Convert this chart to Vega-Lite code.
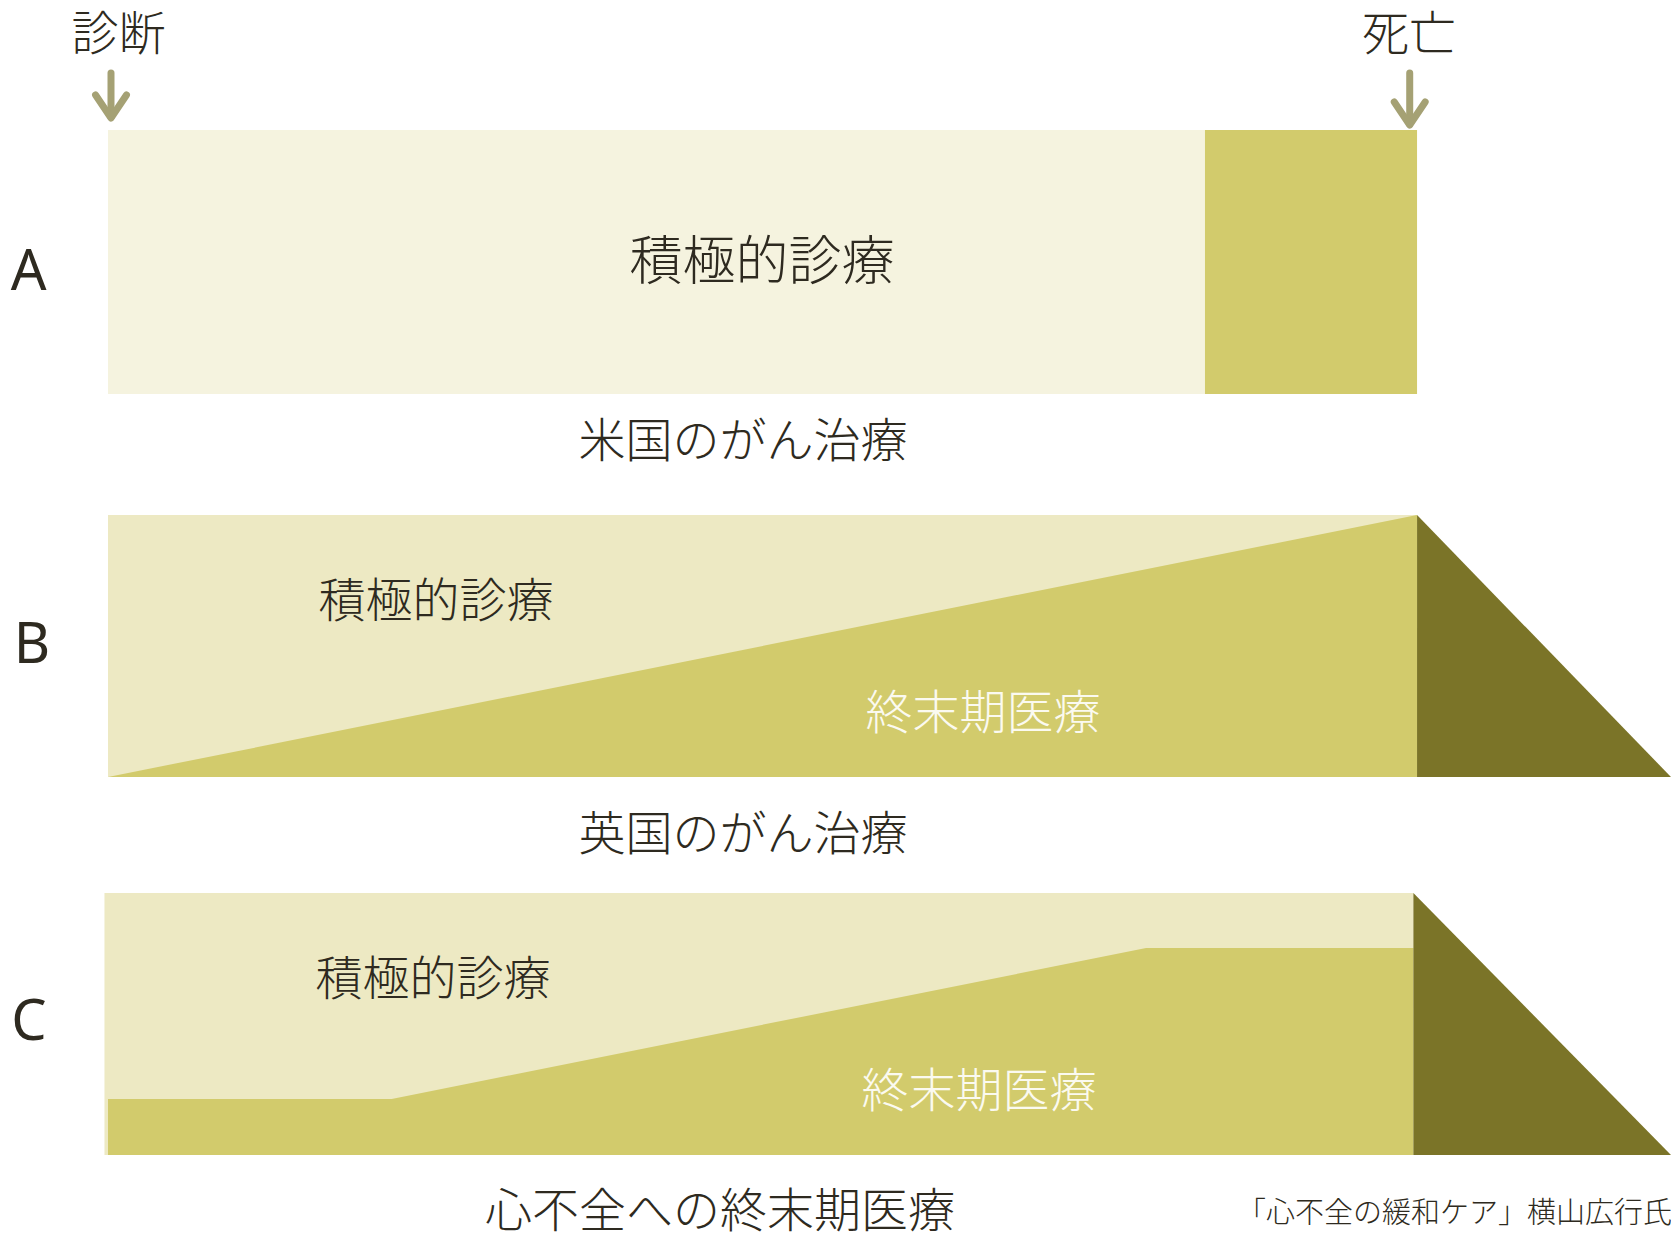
{
  "$schema": "https://vega.github.io/schema/vega-lite/v6.json",
  "width": 1671,
  "height": 1234,
  "autosize": {"type": "none"},
  "padding": 0,
  "background": "#ffffff",
  "config": {"view": {"stroke": null}},
  "datasets": {
    "rects": [
      {"panel": "A", "t0": 0, "t1": 100, "y0": 130, "y1": 394, "part": "paleA"},
      {"panel": "A", "t0": 83.8, "t1": 100, "y0": 130, "y1": 394, "part": "mid"},
      {"panel": "B", "t0": 0, "t1": 100, "y0": 515, "y1": 777, "part": "light"},
      {"panel": "C", "t0": -0.27, "t1": 99.72, "y0": 893, "y1": 1155, "part": "light"}
    ],
    "areas": [
      {"shape": "B-mid", "t": 0, "top": 777, "bottom": 777, "part": "mid"},
      {"shape": "B-mid", "t": 100, "top": 515, "bottom": 777, "part": "mid"},
      {"shape": "B-dark", "t": 100, "top": 515, "bottom": 777, "part": "dark"},
      {"shape": "B-dark", "t": 119.4, "top": 777, "bottom": 777, "part": "dark"},
      {"shape": "C-mid", "t": 0, "top": 1099, "bottom": 1155, "part": "mid"},
      {"shape": "C-mid", "t": 21.67, "top": 1099, "bottom": 1155, "part": "mid"},
      {"shape": "C-mid", "t": 79.3, "top": 948, "bottom": 1155, "part": "mid"},
      {"shape": "C-mid", "t": 99.72, "top": 948, "bottom": 1155, "part": "mid"},
      {"shape": "C-dark", "t": 99.72, "top": 893, "bottom": 1155, "part": "dark"},
      {"shape": "C-dark", "t": 119.4, "top": 1155, "bottom": 1155, "part": "dark"}
    ],
    "arrows": [
      {"seg": "d-shaft", "k": 0, "t": 0.23, "y": 73},
      {"seg": "d-shaft", "k": 1, "t": 0.23, "y": 117},
      {"seg": "d-head", "k": 0, "t": -0.95, "y": 95},
      {"seg": "d-head", "k": 1, "t": 0.23, "y": 118},
      {"seg": "d-head", "k": 2, "t": 1.41, "y": 95},
      {"seg": "x-shaft", "k": 0, "t": 99.44, "y": 73},
      {"seg": "x-shaft", "k": 1, "t": 99.44, "y": 124},
      {"seg": "x-head", "k": 0, "t": 98.26, "y": 102},
      {"seg": "x-head", "k": 1, "t": 99.44, "y": 125},
      {"seg": "x-head", "k": 2, "t": 100.62, "y": 102}
    ],
    "labels": [
      {"label": "診断", "t": 0.8, "y": 36, "role": "caption"},
      {"label": "死亡", "t": 99.39, "y": 36, "role": "caption"},
      {"label": "A", "t": -6.07, "y": 273, "role": "letter"},
      {"label": "B", "t": -5.81, "y": 646, "role": "letter"},
      {"label": "C", "t": -6.04, "y": 1023, "role": "letter"},
      {"label": "積極的診療", "t": 49.96, "y": 264, "role": "big"},
      {"label": "米国のがん治療", "t": 48.5, "y": 443, "role": "caption"},
      {"label": "積極的診療", "t": 25.06, "y": 603, "role": "caption"},
      {"label": "終末期医療", "t": 66.85, "y": 715, "role": "white"},
      {"label": "英国のがん治療", "t": 48.5, "y": 836, "role": "caption"},
      {"label": "積極的診療", "t": 24.83, "y": 981, "role": "caption"},
      {"label": "終末期医療", "t": 66.54, "y": 1093, "role": "white"},
      {"label": "心不全への終末期医療", "t": 46.75, "y": 1213, "role": "caption"},
      {"label": "「心不全の緩和ケア」横山広行氏", "t": 86.25, "y": 1214, "role": "source"}
    ]
  },
  "layer": [
    {
      "data": {"name": "rects"},
      "mark": {"type": "rect"},
      "encoding": {
        "x": {"field": "t0", "type": "quantitative", "scale": {"domain": [-8.25, 119.4], "nice": false, "zero": false}, "axis": null},
        "x2": {"field": "t1"},
        "y": {"field": "y0", "type": "quantitative", "scale": {"domain": [0, 1234], "reverse": true, "nice": false, "zero": false}, "axis": null},
        "y2": {"field": "y1"},
        "color": {"field": "part", "type": "nominal", "scale": {"domain": ["paleA", "light", "mid", "dark"], "range": ["#F5F3DF", "#EDE9C3", "#D2CB6C", "#7B7428"]}, "legend": null}
      }
    },
    {
      "data": {"name": "areas"},
      "mark": {"type": "area", "orient": "vertical"},
      "encoding": {
        "x": {"field": "t", "type": "quantitative", "scale": {"domain": [-8.25, 119.4], "nice": false, "zero": false}, "axis": null},
        "y": {"field": "top", "type": "quantitative", "stack": null, "scale": {"domain": [0, 1234], "reverse": true, "nice": false, "zero": false}, "axis": null},
        "y2": {"field": "bottom"},
        "detail": {"field": "shape", "type": "nominal"},
        "color": {"field": "part", "type": "nominal", "scale": {"domain": ["paleA", "light", "mid", "dark"], "range": ["#F5F3DF", "#EDE9C3", "#D2CB6C", "#7B7428"]}, "legend": null}
      }
    },
    {
      "data": {"name": "arrows"},
      "mark": {"type": "line", "strokeWidth": 7, "strokeCap": "round", "strokeJoin": "round", "color": "#A5A174"},
      "encoding": {
        "x": {"field": "t", "type": "quantitative", "scale": {"domain": [-8.25, 119.4], "nice": false, "zero": false}, "axis": null},
        "y": {"field": "y", "type": "quantitative", "scale": {"domain": [0, 1234], "reverse": true, "nice": false, "zero": false}, "axis": null},
        "detail": {"field": "seg", "type": "nominal"},
        "order": {"field": "k", "type": "quantitative"}
      }
    },
    {
      "data": {"name": "labels"},
      "transform": [{"filter": "datum.role === 'caption'"}],
      "mark": {"type": "text", "font": "Noto Sans CJK JP", "fontSize": 47, "fontWeight": 300, "color": "#2E2A20", "align": "center", "baseline": "middle"},
      "encoding": {
        "x": {"field": "t", "type": "quantitative", "scale": {"domain": [-8.25, 119.4], "nice": false, "zero": false}, "axis": null},
        "y": {"field": "y", "type": "quantitative", "scale": {"domain": [0, 1234], "reverse": true, "nice": false, "zero": false}, "axis": null},
        "text": {"field": "label"}
      }
    },
    {
      "data": {"name": "labels"},
      "transform": [{"filter": "datum.role === 'big'"}],
      "mark": {"type": "text", "font": "Noto Sans CJK JP", "fontSize": 53, "fontWeight": 300, "color": "#2E2A20", "align": "center", "baseline": "middle"},
      "encoding": {
        "x": {"field": "t", "type": "quantitative", "axis": null},
        "y": {"field": "y", "type": "quantitative", "axis": null},
        "text": {"field": "label"}
      }
    },
    {
      "data": {"name": "labels"},
      "transform": [{"filter": "datum.role === 'white'"}],
      "mark": {"type": "text", "font": "Noto Sans CJK JP", "fontSize": 47, "fontWeight": 300, "color": "#FBFAF0", "align": "center", "baseline": "middle"},
      "encoding": {
        "x": {"field": "t", "type": "quantitative", "axis": null},
        "y": {"field": "y", "type": "quantitative", "axis": null},
        "text": {"field": "label"}
      }
    },
    {
      "data": {"name": "labels"},
      "transform": [{"filter": "datum.role === 'letter'"}],
      "mark": {"type": "text", "font": "Noto Sans", "fontSize": 56, "color": "#2E2A20", "align": "center", "baseline": "middle"},
      "encoding": {
        "x": {"field": "t", "type": "quantitative", "axis": null},
        "y": {"field": "y", "type": "quantitative", "axis": null},
        "text": {"field": "label"}
      }
    },
    {
      "data": {"name": "labels"},
      "transform": [{"filter": "datum.role === 'source'"}],
      "mark": {"type": "text", "font": "Noto Sans CJK JP", "fontSize": 29, "fontWeight": 300, "color": "#2E2A20", "align": "left", "baseline": "middle"},
      "encoding": {
        "x": {"field": "t", "type": "quantitative", "axis": null},
        "y": {"field": "y", "type": "quantitative", "axis": null},
        "text": {"field": "label"}
      }
    }
  ]
}
